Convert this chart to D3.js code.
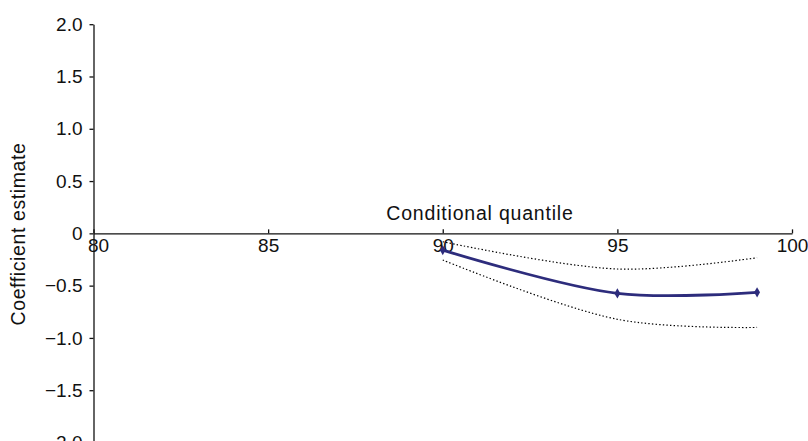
<!DOCTYPE html>
<html>
<head>
<meta charset="utf-8">
<script src="https://cdn.jsdelivr.net/npm/d3@7"></script>
<style>
  html, body { margin: 0; padding: 0; background: #fff; }
  svg { display: block; }
  text { font-family: "Liberation Sans", Arial, Helvetica, sans-serif; fill: #111; }
</style>
</head>
<body>
<svg id="chart" width="808" height="441"></svg>
<script>
// Quantile regression coefficient estimates with confidence band
const quantiles   = [90, 95, 99];
const estimate    = [-0.16, -0.574, -0.564];
const upperBound  = [-0.08, -0.341, -0.233];
const lowerBound  = [-0.255, -0.822, -0.90];

const xTicks = [80, 85, 90, 95, 100];
const yTicks = [2.0, 1.5, 1.0, 0.5, 0, -0.5, -1.0, -1.5, -2.0];
const xTitle = "Conditional quantile";
const yTitle = "Coefficient estimate";

const svg = d3.select("#chart");

const x = d3.scaleLinear().domain([80, 100]).range([93.5, 792]);
const y = d3.scaleLinear().domain([-2, 2]).range([442.5, 24.2]);

const fmtY = v => v === 0 ? "0" : (v < 0 ? "\u2212" : "") + Math.abs(v).toFixed(1);

// Y axis (left, ticks outward)
const yAxis = svg.append("g")
  .attr("transform", `translate(${x(80)},0)`)
  .call(d3.axisLeft(y).tickValues(yTicks).tickFormat(fmtY).tickSizeInner(4).tickSizeOuter(0).tickPadding(7));
yAxis.select(".domain").attr("stroke", "#111").attr("stroke-width", 1.3);
yAxis.selectAll(".tick line").attr("stroke", "#111").attr("stroke-width", 1.3);
yAxis.selectAll(".tick text").attr("font-size", 19).attr("fill", "#111")
  .style("font-family", "'Liberation Sans', Arial, sans-serif");

// X axis drawn at y = 0, ticks pointing up, labels below
const xAxis = svg.append("g")
  .attr("transform", `translate(0,${y(0)})`)
  .call(d3.axisBottom(x).tickValues(xTicks).tickFormat(d3.format("d")).tickSizeInner(-4).tickSizeOuter(0).tickPadding(5));
xAxis.select(".domain").attr("stroke", "#111").attr("stroke-width", 1.3);
xAxis.selectAll(".tick line").attr("stroke", "#111").attr("stroke-width", 1.3);
xAxis.selectAll(".tick text").attr("font-size", 19).attr("fill", "#111")
  .style("font-family", "'Liberation Sans', Arial, sans-serif")
  .attr("dx", d => d === 80 ? 4.5 : 0);

// Axis titles
svg.append("text")
  .attr("x", 480).attr("y", 220)
  .attr("text-anchor", "middle")
  .attr("font-size", 19.5)
  .attr("letter-spacing", 0.8)
  .text(xTitle);

svg.append("text")
  .attr("transform", "translate(25,234) rotate(-90)")
  .attr("text-anchor", "middle")
  .attr("font-size", 19.5)
  .attr("letter-spacing", 0.6)
  .text(yTitle);

// Smoothed lines
const line = vals => d3.line()
  .x((d, i) => x(quantiles[i]))
  .y(d => y(d))
  .curve(d3.curveCatmullRom.alpha(0.5))(vals);

svg.append("path")
  .attr("d", line(upperBound))
  .attr("fill", "none").attr("stroke", "#000")
  .attr("stroke-width", 1.2).attr("stroke-dasharray", "1.4,2.2");

svg.append("path")
  .attr("d", line(lowerBound))
  .attr("fill", "none").attr("stroke", "#000")
  .attr("stroke-width", 1.2).attr("stroke-dasharray", "1.4,2.2");

svg.append("path")
  .attr("d", line(estimate))
  .attr("fill", "none").attr("stroke", "#2d2c7c")
  .attr("stroke-width", 2.8);

// Diamond markers on the estimate
svg.selectAll(".marker")
  .data(estimate)
  .enter().append("path")
  .attr("class", "marker")
  .attr("transform", (d, i) => `translate(${x(quantiles[i])},${y(d)})`)
  .attr("d", d3.symbol(d3.symbolDiamond, 30))
  .attr("fill", "#2d2c7c");
</script>
</body>
</html>
